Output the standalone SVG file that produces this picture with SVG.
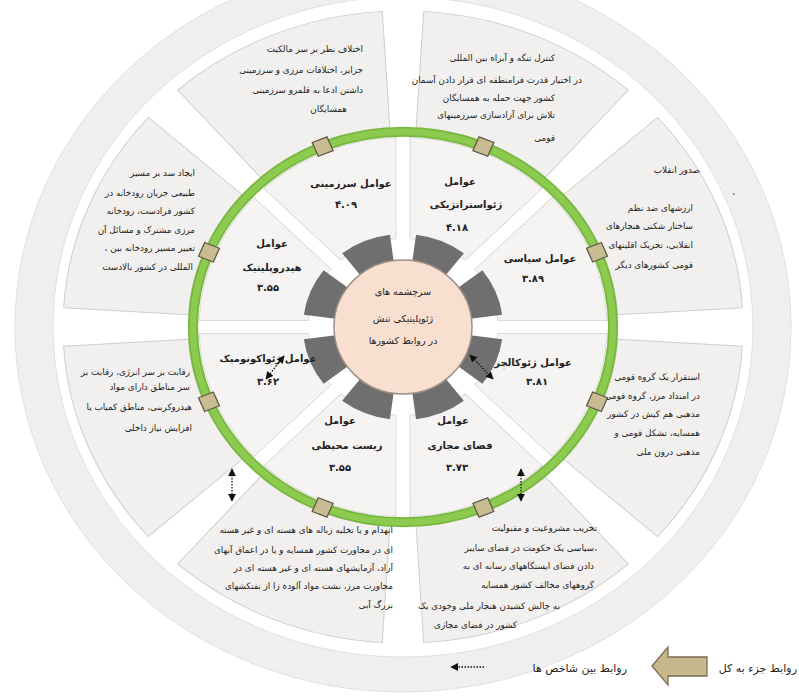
<svg xmlns="http://www.w3.org/2000/svg" width="799" height="696" viewBox="0 0 799 696">
<defs>
<style>
text { font-family: "DejaVu Sans", "Noto Sans", sans-serif; fill: #222; }
.ot { font-size: 8.8px; text-anchor: end; }
.ft { font-size: 10px; font-weight: bold; text-anchor: middle; }
.ct { font-size: 9.5px; text-anchor: middle; }
.lg { font-size: 11px; text-anchor: end; }
.box { fill: #f2f0ee; stroke: #d0cdca; stroke-width: 1; }
.wedge { fill: #f5f4f2; stroke: #dcdad7; stroke-width: 1; }
.block { fill: #6f6f6f; }
.tab { fill: #c9bc93; stroke: #5e5844; stroke-width: 1.3; }
.rel { stroke: #111; stroke-width: 1.3; stroke-dasharray: 1.5 1.5; fill: none; marker-start: url(#ah); marker-end: url(#ah); }
</style>
<path id="outerBox" d="M203.3,-70.0 L321.5,-110.7 A340,340 0 0 1 321.5,110.7 L203.3,70.0 A215,215 0 0 0 203.3,-70.0 Z"/>
<path id="wedge" d="M90.2,-29.8 L191.0,-71.5 A204,204 0 0 1 191.0,71.5 L90.2,29.8 A95,95 0 0 0 90.2,-29.8 Z"/>
<path id="block" d="M59.9,-16.0 L96.6,-25.9 A100,100 0 0 1 96.6,25.9 L59.9,16.0 A62,62 0 0 0 59.9,-16.0 Z"/>
<rect id="tab" x="202" y="-8" width="16" height="16"/>
<marker id="ah" viewBox="0 0 10 10" refX="9" refY="5" markerWidth="6" markerHeight="6" orient="auto-start-reverse">
<path d="M0,0 L10,5 L0,10 Z" fill="#111"/>
</marker>
<marker id="ah1" viewBox="0 0 10 10" refX="9" refY="5" markerWidth="6" markerHeight="6" orient="auto">
<path d="M0,0 L10,5 L0,10 Z" fill="#111"/>
</marker>
</defs>

<rect width="799" height="696" fill="#ffffff"/>

<g id="outer-band">
<path d="M15,327 a388,365 0 1 0 776,0 a388,365 0 1 0 -776,0 Z M53,327 a350,330 0 1 0 700,0 a350,330 0 1 0 -700,0 Z" fill="#f0efee" fill-rule="evenodd" stroke="#e2e0de" stroke-width="1"/>
</g>

<g id="desc-territorial">
<use href="#outerBox" class="box" transform="translate(403,327) scale(1,0.93) rotate(-112.5)"/>
<text class="ot" x="363" y="52">اختلاف نظر بر سر مالکیت</text>
<text class="ot" x="363" y="73">جزایر، اختلافات مرزی و سرزمینی</text>
<text class="ot" x="363" y="93">داشتن ادعا به قلمرو سرزمینی</text>
<text class="ot" x="347" y="112">همسایگان</text>
</g>

<g id="desc-geostrategic">
<use href="#outerBox" class="box" transform="translate(403,327) scale(1,0.93) rotate(-67.5)"/>
<text class="ot" x="555" y="61">کنترل تنگه و آبراه بین المللی</text>
<text class="ot" x="582" y="83">در اختیار قدرت فرامنطقه ای قرار دادن آسمان</text>
<text class="ot" x="555" y="101">کشور جهت حمله به همسایگان</text>
<text class="ot" x="555" y="118">تلاش برای آزادسازی سرزمینهای</text>
<text class="ot" x="555" y="141">قومی</text>
</g>

<g id="desc-political">
<use href="#outerBox" class="box" transform="translate(403,327) scale(1,0.93) rotate(-22.5)"/>
<text class="ot" x="700" y="173">صدور انقلاب</text>
<text class="ot" x="735" y="195">،</text>
<text class="ot" x="693" y="211">ارزشهای ضد نظم</text>
<text class="ot" x="693" y="229">ساختار شکنی  هنجارهای</text>
<text class="ot" x="693" y="248">انقلابی، تحریک اقلیتهای</text>
<text class="ot" x="693" y="268">قومی کشورهای دیگر</text>
</g>

<g id="desc-geoculture">
<use href="#outerBox" class="box" transform="translate(403,327) scale(1,0.93) rotate(22.5)"/>
<text class="ot" x="700" y="380">استقرار یک گروه قومی</text>
<text class="ot" x="700" y="399">در امتداد مرز، گروه قومی و</text>
<text class="ot" x="700" y="417">مذهبی هم کیش در کشور</text>
<text class="ot" x="700" y="436">همسایه، تشکل قومی و</text>
<text class="ot" x="700" y="455">مذهبی درون ملی</text>
</g>

<g id="desc-cyberspace">
<use href="#outerBox" class="box" transform="translate(403,327) scale(1,0.93) rotate(67.5)"/>
<text class="ot" x="597" y="531">تخریب مشروعیت و مقبولیت</text>
<text class="ot" x="597" y="551">سیاسی یک حکومت در فضای سایبر،</text>
<text class="ot" x="594" y="569">دادن فضای ایستگاههای رسانه ای به</text>
<text class="ot" x="594" y="588">گروههای مخالف کشور همسایه</text>
<text class="ot" x="560" y="609">به چالش کشیدن هنجار ملی وجودی یک</text>
<text class="ot" x="517" y="628">کشور در فضای مجازی</text>
</g>

<g id="desc-environmental">
<use href="#outerBox" class="box" transform="translate(403,327) scale(1,0.93) rotate(112.5)"/>
<text class="ot" x="393" y="533">انهدام و یا تخلیه زباله های هسته ای و غیر هسته</text>
<text class="ot" x="393" y="553">ای در مجاورت کشور همسایه و یا در اعماق آبهای</text>
<text class="ot" x="393" y="571">آزاد، آزمایشهای هسته ای و غیر هسته ای در</text>
<text class="ot" x="393" y="589">مجاورت مرز، نشت مواد آلوده زا از      نفتکشهای</text>
<text class="ot" x="393" y="608">بزرگ آبی</text>
</g>

<g id="desc-geoeconomic">
<use href="#outerBox" class="box" transform="translate(403,327) scale(1,0.93) rotate(157.5)"/>
<text class="ot" x="190" y="375">رقابت بر سر انرژی، رقابت بر</text>
<text class="ot" x="190" y="390">سر مناطق دارای مواد</text>
<text class="ot" x="192" y="410">هیدروکربنی، مناطق کمیاب یا</text>
<text class="ot" x="192" y="431">افزایش نیاز داخلی</text>
</g>

<g id="desc-hydropolitic">
<use href="#outerBox" class="box" transform="translate(403,327) scale(1,0.93) rotate(202.5)"/>
<text class="ot" x="195" y="176">ایجاد سد بر مسیر</text>
<text class="ot" x="195" y="196">طبیعی جریان رودخانه در</text>
<text class="ot" x="195" y="214">کشور فرادست، رودخانه</text>
<text class="ot" x="195" y="233">مرزی مشترک و مسائل آن</text>
<text class="ot" x="195" y="251">، تغییر مسیر رودخانه بین</text>
<text class="ot" x="193" y="270">المللی در کشور بالادست</text>
</g>

<g id="factor-territorial">
<use href="#wedge" class="wedge" transform="translate(403,327) scale(1,0.93) rotate(-112.5)"/>
<use href="#block" class="block" transform="translate(403,327) scale(1,0.93) rotate(-112.5)"/>
<text class="ft" x="351" y="187">عوامل سرزمینی</text>
<text class="ft" x="346" y="208">۴.۰۹</text>
</g>

<g id="factor-geostrategic">
<use href="#wedge" class="wedge" transform="translate(403,327) scale(1,0.93) rotate(-67.5)"/>
<use href="#block" class="block" transform="translate(403,327) scale(1,0.93) rotate(-67.5)"/>
<text class="ft" x="460" y="185">عوامل</text>
<text class="ft" x="466" y="208">ژئواستراتژیکی</text>
<text class="ft" x="457" y="231">۴.۱۸</text>
</g>

<g id="factor-political">
<use href="#wedge" class="wedge" transform="translate(403,327) scale(1,0.93) rotate(-22.5)"/>
<use href="#block" class="block" transform="translate(403,327) scale(1,0.93) rotate(-22.5)"/>
<text class="ft" x="540" y="262">عوامل سیاسی</text>
<text class="ft" x="533" y="282">۳.۸۹</text>
</g>

<g id="factor-geoculture">
<use href="#wedge" class="wedge" transform="translate(403,327) scale(1,0.93) rotate(22.5)"/>
<use href="#block" class="block" transform="translate(403,327) scale(1,0.93) rotate(22.5)"/>
<text class="ft" x="533" y="366">عوامل ژئوکالچر</text>
<text class="ft" x="537" y="385">۳.۸۱</text>
</g>

<g id="factor-cyberspace">
<use href="#wedge" class="wedge" transform="translate(403,327) scale(1,0.93) rotate(67.5)"/>
<use href="#block" class="block" transform="translate(403,327) scale(1,0.93) rotate(67.5)"/>
<text class="ft" x="453" y="424">عوامل</text>
<text class="ft" x="460" y="449">فضای مجازی</text>
<text class="ft" x="457" y="471">۳.۷۳</text>
</g>

<g id="factor-environmental">
<use href="#wedge" class="wedge" transform="translate(403,327) scale(1,0.93) rotate(112.5)"/>
<use href="#block" class="block" transform="translate(403,327) scale(1,0.93) rotate(112.5)"/>
<text class="ft" x="340" y="424">عوامل</text>
<text class="ft" x="347" y="449">زیست محیطی</text>
<text class="ft" x="340" y="471">۳.۵۵</text>
</g>

<g id="factor-geoeconomic">
<use href="#wedge" class="wedge" transform="translate(403,327) scale(1,0.93) rotate(157.5)"/>
<use href="#block" class="block" transform="translate(403,327) scale(1,0.93) rotate(157.5)"/>
<text class="ft" x="268" y="362">عوامل ژئواکونومیک</text>
<text class="ft" x="268" y="385">۳.۶۲</text>
</g>

<g id="factor-hydropolitic">
<use href="#wedge" class="wedge" transform="translate(403,327) scale(1,0.93) rotate(202.5)"/>
<use href="#block" class="block" transform="translate(403,327) scale(1,0.93) rotate(202.5)"/>
<text class="ft" x="272" y="247">عوامل</text>
<text class="ft" x="272" y="271">هیدروپلیتیک</text>
<text class="ft" x="268" y="291">۳.۵۵</text>
</g>

<g id="center">
<ellipse cx="403" cy="327" rx="69" ry="67" fill="#f9dfd0" stroke="#9e9088" stroke-width="1.5"/>
<text class="ct" x="403" y="295">سرچشمه های</text>
<text class="ct" x="403" y="322">ژئوپلیتیکی تنش</text>
<text class="ct" x="403" y="344">در روابط کشورها</text>
</g>

<g id="ring">
<ellipse cx="403" cy="327" rx="210" ry="195.3" fill="none" stroke="#74b83c" stroke-width="10"/>
<ellipse cx="403" cy="327" rx="210" ry="195.3" fill="none" stroke="#8dcb50" stroke-width="6.5"/>
</g>

<g id="connectors">
<use href="#tab" class="tab" transform="translate(403,327) scale(1,0.93) rotate(-112.5)"/>
<use href="#tab" class="tab" transform="translate(403,327) scale(1,0.93) rotate(-67.5)"/>
<use href="#tab" class="tab" transform="translate(403,327) scale(1,0.93) rotate(-22.5)"/>
<use href="#tab" class="tab" transform="translate(403,327) scale(1,0.93) rotate(22.5)"/>
<use href="#tab" class="tab" transform="translate(403,327) scale(1,0.93) rotate(67.5)"/>
<use href="#tab" class="tab" transform="translate(403,327) scale(1,0.93) rotate(112.5)"/>
<use href="#tab" class="tab" transform="translate(403,327) scale(1,0.93) rotate(157.5)"/>
<use href="#tab" class="tab" transform="translate(403,327) scale(1,0.93) rotate(202.5)"/>
<line class="rel" x1="284" y1="356" x2="266" y2="379"/>
<line class="rel" x1="470" y1="355" x2="493" y2="379"/>
<line class="rel" x1="232" y1="469" x2="232" y2="501"/>
<line class="rel" x1="521" y1="469" x2="521" y2="501"/>
</g>

<g id="legend">
<text class="lg" x="797" y="672">روابط جزء به کل</text>
<polygon points="652,666 668,647 668,657 707,657 707,676 668,676 668,685" fill="#c6b78c" stroke="#7a6e4c" stroke-width="1.3"/>
<text class="lg" x="627" y="672">روابط بین شاخص ها</text>
<line x1="484" y1="667" x2="451" y2="667" stroke="#111" stroke-width="1.3" stroke-dasharray="1.5 1.5" marker-end="url(#ah1)"/>
</g>
</svg>
